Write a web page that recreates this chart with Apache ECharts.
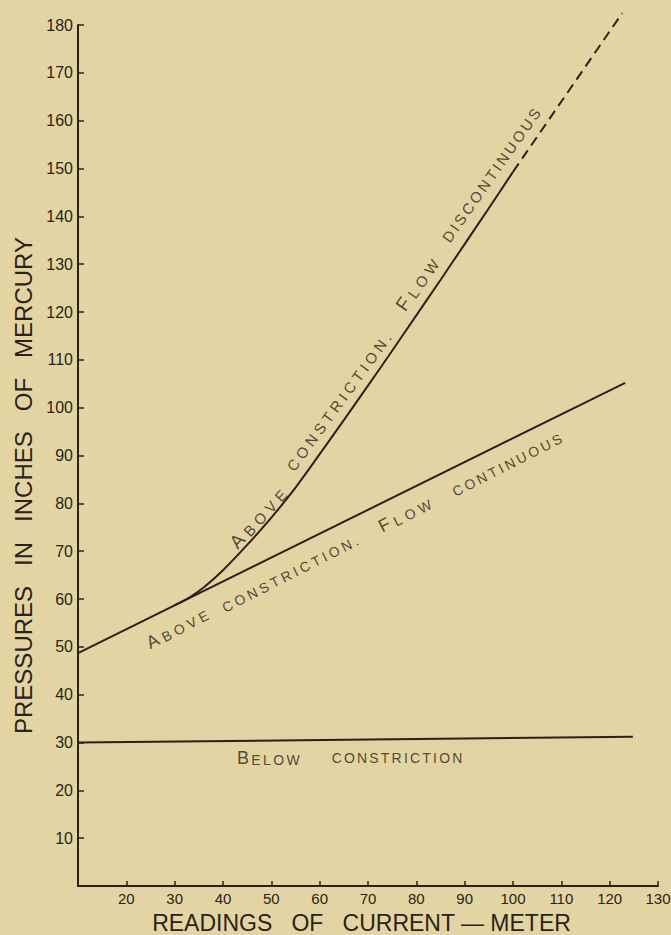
<!DOCTYPE html>
<html>
<head>
<meta charset="utf-8">
<script src="https://cdn.jsdelivr.net/npm/echarts@6/dist/echarts.min.js"></script>
<style>
html,body{margin:0;padding:0;background:#e3d5a3;}
#c{width:671px;height:935px;}
#c svg text{white-space:pre;}
</style>
</head>
<body>
<div id="c"></div>
<script>
// ---- data ----
const xTicks = [10, 20, 30, 40, 50, 60, 70, 80, 90, 100, 110, 120, 130];
const yTicks = [0, 10, 20, 30, 40, 50, 60, 70, 80, 90, 100, 110, 120, 130, 140, 150, 160, 170, 180];

const belowX = [10, 124.8];
const belowY = [30.0, 31.2];

const contX = [10, 123.2];
const contY = [48.7, 105.2];

const discX = [30, 33, 36, 40, 45, 50, 55, 60, 65, 70, 75, 80, 85, 90, 95, 100];
const discY = [58.7, 60.3, 62.4, 66.0, 71.3, 77.0, 83.3, 90.3, 97.4, 104.6, 111.9, 119.3, 126.7, 134.2, 141.7, 149.3];

const dashX = [100, 122.6];
const dashY = [149.3, 182.5];

const annoText = ['ABOVE', 'CONSTRICTION.', 'FLOW', 'DISCONTINUOUS',
                  'ABOVE', 'CONSTRICTION.', 'FLOW', 'CONTINUOUS',
                  'BELOW', 'CONSTRICTION'];
const annoX = [47.2, 64.0, 80.1, 95.5, 30.5, 53.9, 77.5, 98.8, 49.3, 76.0];
const annoY = [76.9, 101.2, 125.7, 148.6, 53.9, 65.2, 77.6, 88.0, 26.8, 26.8];

const xTitle = 'READINGS   OF   CURRENT — METER';
const yTitle = 'PRESSURES   IN   INCHES   OF   MERCURY';

// ---- styles ----
const INK = '#2b2216';
const FONT = '"Liberation Sans", Arial, sans-serif';
const annoStyle = [
  {rot: 48, size: 15, ls: 5.0, cap: true},
  {rot: 54, size: 15, ls: 4.0, cap: false},
  {rot: 55, size: 15, ls: 4.5, cap: true},
  {rot: 55, size: 15, ls: 2.8, cap: false},
  {rot: 28, size: 14, ls: 4.0, cap: true},
  {rot: 27, size: 14, ls: 3.4, cap: false},
  {rot: 27, size: 14, ls: 4.5, cap: true},
  {rot: 27, size: 14, ls: 3.0, cap: false},
  {rot: 0,  size: 14, ls: 2.4, cap: true},
  {rot: 0,  size: 14, ls: 2.2, cap: false}
];

const zip = (a, b) => a.map((v, i) => [v, b[i]]);
const tokensOf = i => annoStyle[i].cap ? [annoText[i][0], annoText[i].slice(1)] : [annoText[i]];

const rich = {};
[14, 15].forEach(s => {
  rich['s' + s] = {fontSize: s, lineHeight: s, fontFamily: FONT, color: INK, verticalAlign: 'bottom'};
  rich['b' + s] = {fontSize: s + 4, lineHeight: s + 4, fontFamily: FONT, color: INK, verticalAlign: 'bottom'};
});

const annoData = annoText.map((t, i) => {
  const st = annoStyle[i];
  const toks = tokensOf(i);
  const fmt = st.cap ? `{b${st.size}|${toks[0]}}{s${st.size}|${toks[1]}}` : `{s${st.size}|${toks[0]}}`;
  return {value: [annoX[i], annoY[i]], label: {rotate: st.rot, formatter: fmt}};
});

const lineBase = {type: 'line', symbol: 'none', silent: true, lineStyle: {color: INK, width: 2}};

const option = {
  animation: false,
  backgroundColor: '#e3d5a3',
  grid: {left: 78, right: 13, top: 25, bottom: 49, outerBoundsMode: 'none', containLabel: false},
  xAxis: {
    type: 'value', min: xTicks[0], max: xTicks[xTicks.length - 1], interval: xTicks[1] - xTicks[0],
    axisLine: {lineStyle: {color: INK, width: 2}},
    axisTick: {inside: true, length: 5, lineStyle: {color: INK, width: 1.5}},
    axisLabel: {fontSize: 15, fontFamily: FONT, color: INK, margin: 5, showMinLabel: true, showMaxLabel: true,
      formatter: v => v === xTicks[0] ? '' : String(v)},
    splitLine: {show: false},
    name: xTitle, nameLocation: 'middle', nameGap: 25,
    nameTextStyle: {fontSize: 23, fontFamily: FONT, color: INK, padding: [0, 13, 0, 0]}
  },
  yAxis: {
    type: 'value', min: yTicks[0], max: yTicks[yTicks.length - 1], interval: yTicks[1] - yTicks[0],
    axisLine: {lineStyle: {color: INK, width: 2}},
    axisTick: {inside: true, length: 6, lineStyle: {color: INK, width: 1.5}},
    axisLabel: {fontSize: 16, fontFamily: FONT, color: INK, margin: 5, showMaxLabel: true,
      formatter: v => v === 0 ? '' : String(v)},
    splitLine: {show: false},
    name: yTitle, nameLocation: 'middle', nameRotate: 90, nameGap: 40,
    nameTextStyle: {fontSize: 24, fontFamily: FONT, color: INK, padding: [0, 60, 0, 0]}
  },
  series: [
    Object.assign({}, lineBase, {data: zip(belowX, belowY)}),
    Object.assign({}, lineBase, {data: zip(contX, contY)}),
    Object.assign({}, lineBase, {data: zip(discX, discY), smooth: 0.3}),
    Object.assign({}, lineBase, {data: zip(dashX, dashY), clip: false,
      lineStyle: {color: INK, width: 2, type: [10, 6]}}),
    {
      type: 'scatter', silent: true, symbolSize: 1, itemStyle: {color: 'rgba(0,0,0,0)'},
      label: {show: true, position: 'inside', rich: rich},
      data: annoData
    }
  ]
};

const chart = echarts.init(document.getElementById('c'), null, {renderer: 'svg', width: 671, height: 935});

// letter-spacing for the hand-lettered annotations (SVG text, spacing only)
function spaceLabels() {
  const svg = document.querySelector('#c svg');
  if (!svg) return;
  const texts = Array.from(svg.querySelectorAll('text'));
  annoText.forEach((t, i) => {
    const st = annoStyle[i];
    const ls = st.ls;
    const p = chart.convertToPixel({seriesIndex: 4}, [annoX[i], annoY[i]]);
    const toks = tokensOf(i);
    const els = toks.map(tok => {
      let best = null, bd = 1e9;
      texts.forEach(el => {
        if (el.__used || el.textContent !== tok) return;
        const r = el.getBoundingClientRect();
        const d = Math.hypot(r.x + r.width / 2 - p[0], r.y + r.height / 2 - p[1]);
        if (d < bd) { bd = d; best = el; }
      });
      return best;
    });
    if (els.some(e => !e)) return;
    els.forEach(e => { e.__used = true; });
    const n = els.length;
    const b0 = els.map(e => e.getBBox());
    const c0 = (Math.min(...b0.map(b => b.x)) + Math.max(...b0.map(b => b.x + b.width))) / 2;
    const gaps = [];
    for (let k = 0; k < n - 1; k++) gaps.push(Math.max(0, b0[k + 1].x - (b0[k].x + b0[k].width)));
    els.forEach(e => { e.setAttribute('letter-spacing', ls); e.setAttribute('dx', 0); });
    const b1 = els.map(e => e.getBBox());
    const glyphW = b1.map((b, k) => {
      const inc = b.width - b0[k].width;
      const trailing = inc > (toks[k].length - 0.5) * ls ? ls : 0;
      return b.width - trailing;
    });
    let pos = 0; const lefts = [];
    glyphW.forEach((w, k) => { lefts.push(pos); pos += w + (k < n - 1 ? gaps[k] + ls : 0); });
    const start = c0 - pos / 2;
    els.forEach((e, k) => e.setAttribute('dx', start + lefts[k] - b1[k].x));
  });
}

chart.setOption(option);
chart.getZr().refreshImmediately();
spaceLabels();
chart.on('finished', spaceLabels);
</script>
</body>
</html>
